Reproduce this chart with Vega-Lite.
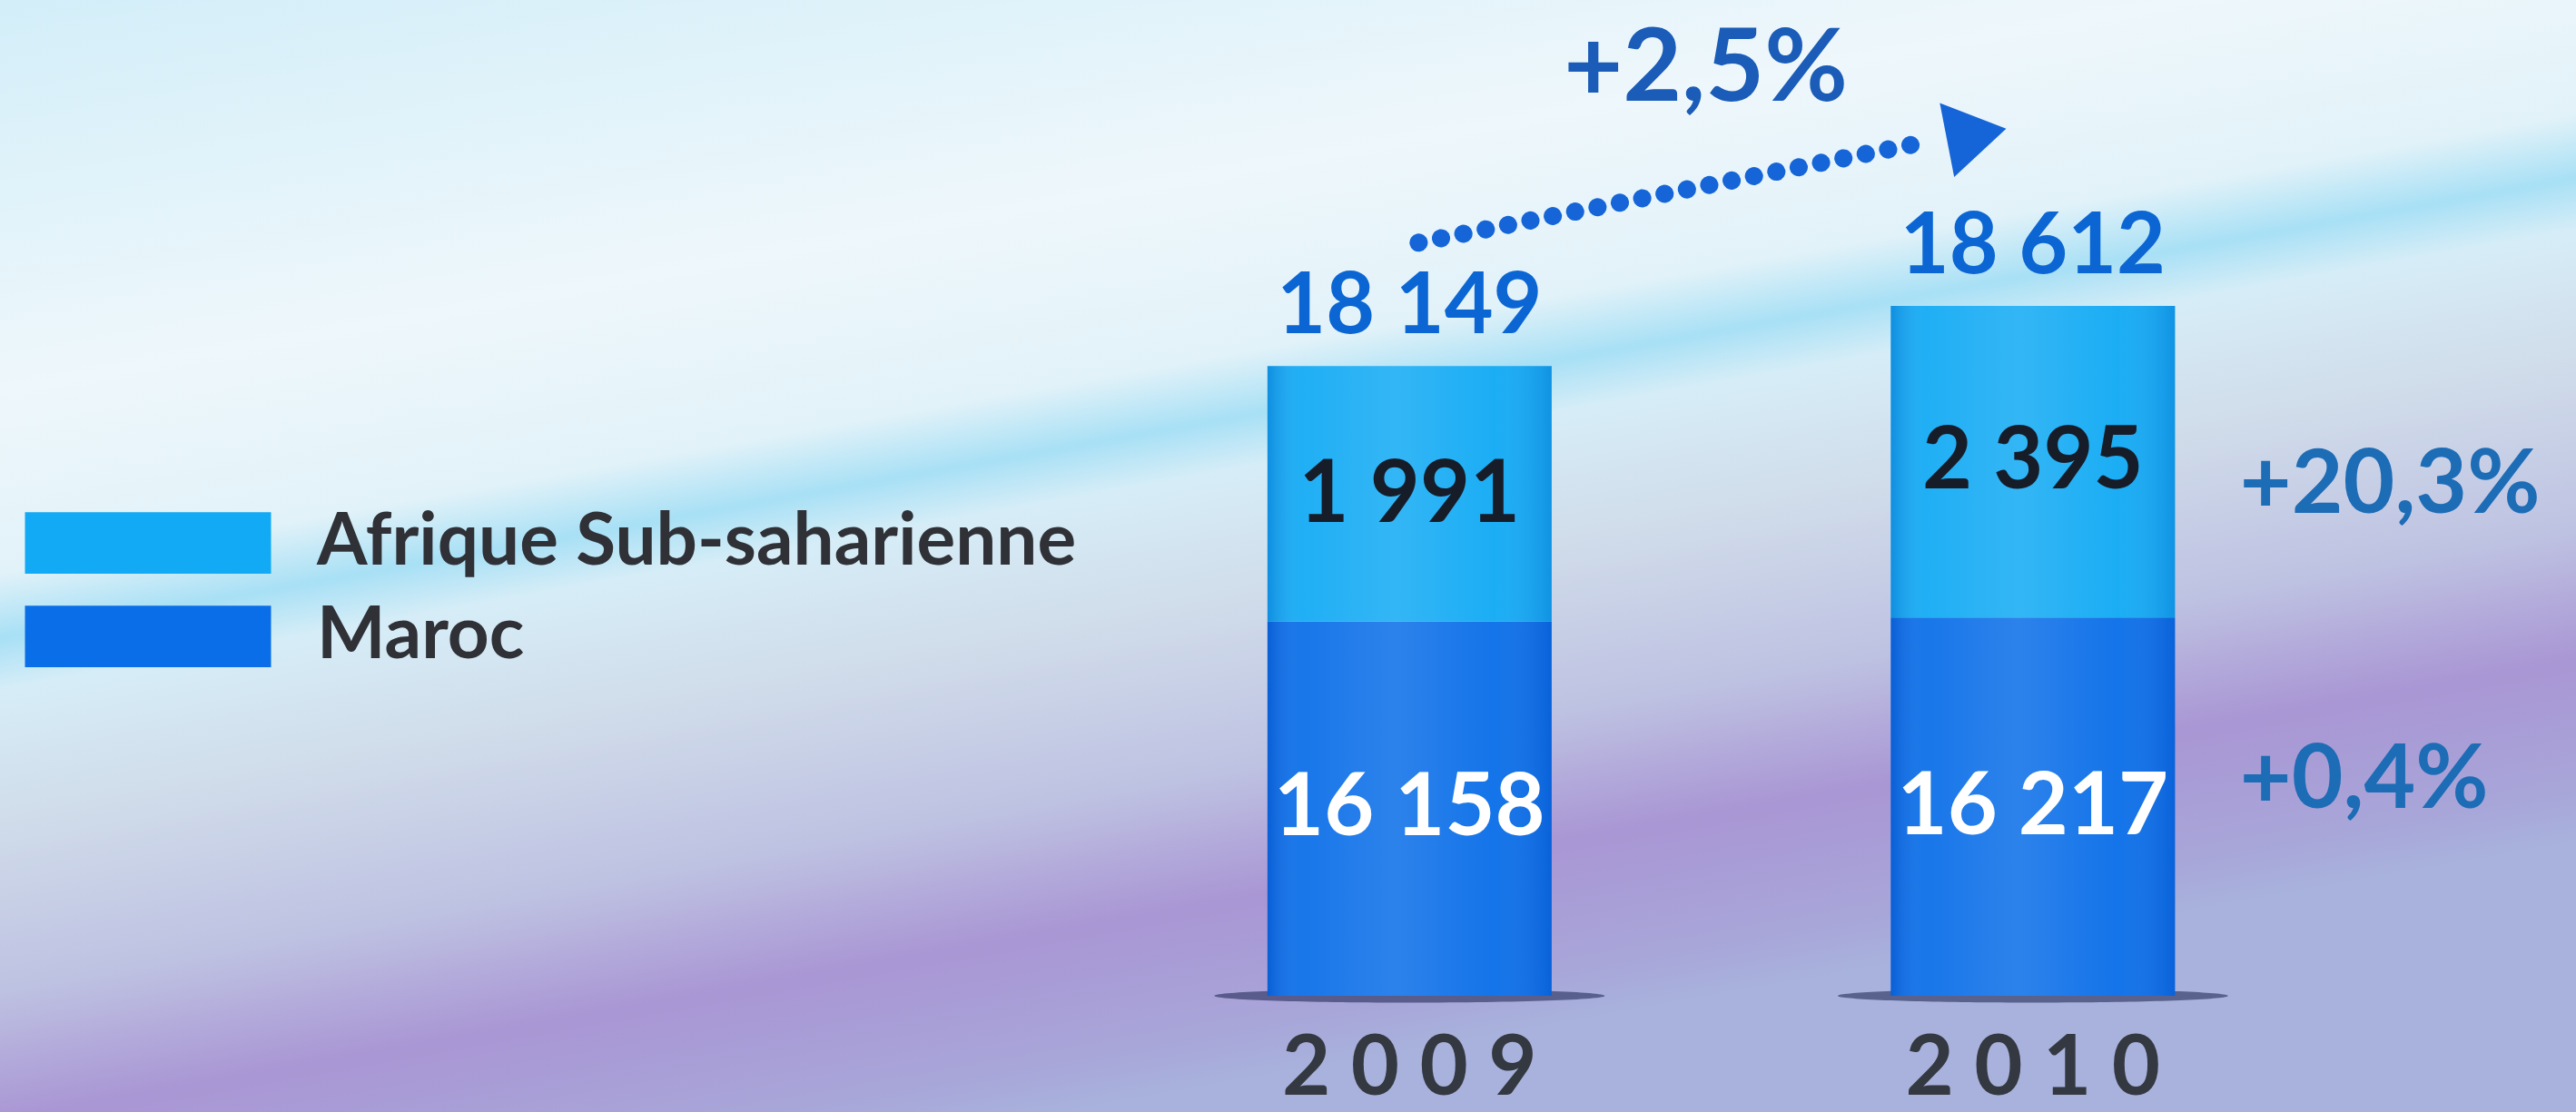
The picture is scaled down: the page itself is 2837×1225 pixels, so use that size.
{
  "$schema": "https://vega.github.io/schema/vega-lite/v6.json",
  "width": 2837,
  "height": 1225,
  "padding": 0,
  "autosize": {"type": "none"},
  "background": "#dceaf3",
  "config": {
    "locale": {"number": {"decimal": ",", "thousands": " ", "grouping": [3], "currency": ["", " €"]}},
    "font": "Lato",
    "view": {
      "stroke": null,
      "fill": {
        "gradient": "linear", "x1": 0, "y1": 0, "x2": 0.4136, "y2": 1,
        "stops": [
          {"offset": 0, "color": "#d3eef9"},
          {"offset": 0.3, "color": "#eef7fb"},
          {"offset": 0.44, "color": "#e2f2f9"},
          {"offset": 0.49, "color": "#a8e0f5"},
          {"offset": 0.53, "color": "#d6edf7"},
          {"offset": 0.63, "color": "#d0dcea"},
          {"offset": 0.76, "color": "#bec2e2"},
          {"offset": 0.86, "color": "#a996d4"},
          {"offset": 0.96, "color": "#a8a6d9"},
          {"offset": 1.1, "color": "#a8b2dc"}
        ]
      }
    }
  },
  "datasets": {
    "segments": [
      {"year": 2009, "region": "Maroc", "order": 1, "value": 16158, "growth": null},
      {"year": 2009, "region": "Afrique Sub-saharienne", "order": 2, "value": 1991, "growth": null},
      {"year": 2010, "region": "Maroc", "order": 1, "value": 16217, "growth": 0.004},
      {"year": 2010, "region": "Afrique Sub-saharienne", "order": 2, "value": 2395, "growth": 0.203}
    ],
    "totals": [
      {"year": 2009, "total": 18149},
      {"year": 2010, "total": 18612}
    ],
    "change": [
      {"from": 2009, "to": 2010, "v0": 18149, "v1": 18612, "growth": 0.025}
    ]
  },
  "layer": [
    {
      "data": {"name": "totals"},
      "mark": {"type": "point", "shape": "M-1,0A1,0.035,0,1,0,1,0A1,0.035,0,1,0,-1,0Z", "filled": true, "fill": "#16204c", "opacity": 0.55, "size": 184900},
      "encoding": {
        "x": {"field": "year", "type": "quantitative", "scale": {"domain": [2006.746, 2010.864], "nice": false, "zero": false}, "axis": null},
        "y": {"datum": 0, "type": "quantitative", "scale": {"domain": [0, 16190, 18612], "range": [1097, 684, 337], "nice": false, "zero": false}, "axis": null}
      }
    },
    {
      "data": {"name": "segments"},
      "transform": [
        {"stack": "value", "groupby": ["year"], "sort": [{"field": "order"}], "as": ["v0", "v1"]}
      ],
      "mark": {"type": "bar", "width": 313},
      "encoding": {
        "x": {"field": "year", "type": "quantitative"},
        "y": {"field": "v0", "type": "quantitative"},
        "y2": {"field": "v1"},
        "color": {
          "field": "region", "type": "nominal",
          "scale": {"domain": ["Afrique Sub-saharienne", "Maroc"], "range": ["#12aaf4", "#0a6ee8"]},
          "legend": {
            "orient": "none", "legendX": 123, "legendY": 558, "title": null, "padding": 0,
            "symbolType": "M-4,-1H4V1H-4Z", "symbolSize": 4590, "symbolStrokeWidth": 0, "symbolOpacity": 1,
            "labelFontSize": 80, "labelFont": "Lato", "labelFontWeight": "bold", "labelColor": "#2f3137",
            "labelOffset": 146, "rowPadding": 23, "labelLimit": 2000
          }
        }
      }
    },
    {
      "data": {"name": "segments"},
      "transform": [
        {"stack": "value", "groupby": ["year"], "sort": [{"field": "order"}], "as": ["v0", "v1"]}
      ],
      "mark": {
        "type": "bar", "width": 313,
        "fill": {
          "gradient": "linear", "x1": 0, "y1": 0, "x2": 1, "y2": 0,
          "stops": [
            {"offset": 0, "color": "rgba(0,40,150,0.22)"},
            {"offset": 0.12, "color": "rgba(255,255,255,0.06)"},
            {"offset": 0.45, "color": "rgba(255,255,255,0.14)"},
            {"offset": 0.8, "color": "rgba(255,255,255,0.04)"},
            {"offset": 1, "color": "rgba(0,40,150,0.18)"}
          ]
        }
      },
      "encoding": {
        "x": {"field": "year", "type": "quantitative"},
        "y": {"field": "v0", "type": "quantitative"},
        "y2": {"field": "v1"}
      }
    },
    {
      "data": {"name": "segments"},
      "transform": [
        {"stack": "value", "groupby": ["year"], "sort": [{"field": "order"}], "as": ["v0", "v1"]},
        {"calculate": "(datum.v0 + datum.v1) / 2", "as": "mid"}
      ],
      "mark": {"type": "text", "fontSize": 95, "fontWeight": "bold", "baseline": "middle", "align": "center"},
      "encoding": {
        "x": {"field": "year", "type": "quantitative"},
        "y": {"field": "mid", "type": "quantitative"},
        "text": {"field": "value", "type": "quantitative", "format": ",d"},
        "color": {"condition": {"test": "datum.region === 'Maroc'", "value": "#ffffff"}, "value": "#161c28"}
      }
    },
    {
      "data": {"name": "segments"},
      "transform": [
        {"stack": "value", "groupby": ["year"], "sort": [{"field": "order"}], "as": ["v0", "v1"]},
        {"calculate": "(datum.v0 + datum.v1) / 2", "as": "mid"},
        {"filter": "datum.growth != null && datum.region !== 'Maroc'"}
      ],
      "mark": {"type": "text", "fontSize": 98, "fontWeight": "bold", "baseline": "middle", "align": "left", "xOffset": 228, "yOffset": 27, "color": "#1d6cb6"},
      "encoding": {
        "x": {"field": "year", "type": "quantitative"},
        "y": {"field": "mid", "type": "quantitative"},
        "text": {"field": "growth", "type": "quantitative", "format": "+.1%"}
      }
    },
    {
      "data": {"name": "segments"},
      "transform": [
        {"stack": "value", "groupby": ["year"], "sort": [{"field": "order"}], "as": ["v0", "v1"]},
        {"calculate": "(datum.v0 + datum.v1) / 2", "as": "mid"},
        {"filter": "datum.growth != null && datum.region === 'Maroc'"}
      ],
      "mark": {"type": "text", "fontSize": 98, "fontWeight": "bold", "baseline": "middle", "align": "left", "xOffset": 228, "yOffset": -29, "color": "#1d6cb6"},
      "encoding": {
        "x": {"field": "year", "type": "quantitative"},
        "y": {"field": "mid", "type": "quantitative"},
        "text": {"field": "growth", "type": "quantitative", "format": "+.1%"}
      }
    },
    {
      "data": {"name": "totals"},
      "mark": {"type": "text", "fontSize": 93, "fontWeight": "bold", "baseline": "alphabetic", "align": "center", "yOffset": -36, "color": "#0b66d4"},
      "encoding": {
        "x": {"field": "year", "type": "quantitative"},
        "y": {"field": "total", "type": "quantitative"},
        "text": {"field": "total", "type": "quantitative", "format": ",d"}
      }
    },
    {
      "data": {"name": "change"},
      "mark": {"type": "rule", "strokeWidth": 20, "strokeCap": "round", "strokeDash": [0.1, 25], "color": "#1565d8", "xOffset": 10, "x2Offset": -121, "yOffset": -136, "y2Offset": -180},
      "encoding": {
        "x": {"field": "from", "type": "quantitative"},
        "x2": {"field": "to"},
        "y": {"field": "v0", "type": "quantitative"},
        "y2": {"field": "v1"}
      }
    },
    {
      "data": {"name": "change"},
      "mark": {"type": "point", "shape": "M-0.8,-1L0.8,0L-0.8,1Z", "filled": true, "fill": "#1565d8", "opacity": 1, "size": 6889, "angle": -11, "xOffset": -62, "yOffset": -189},
      "encoding": {
        "x": {"field": "to", "type": "quantitative"},
        "y": {"field": "v1", "type": "quantitative"}
      }
    },
    {
      "data": {"name": "change"},
      "transform": [{"calculate": "(datum.from + datum.to) / 2", "as": "midYear"}],
      "mark": {"type": "text", "fontSize": 112, "fontWeight": "bold", "baseline": "alphabetic", "align": "center", "xOffset": -17, "yOffset": -226, "color": "#1a5cb8"},
      "encoding": {
        "x": {"field": "midYear", "type": "quantitative"},
        "y": {"field": "v1", "type": "quantitative"},
        "text": {"field": "growth", "type": "quantitative", "format": "+.1%"}
      }
    },
    {
      "data": {"name": "totals"},
      "transform": [{"calculate": "join(split(toString(datum.year), ''), ' ')", "as": "yearLabel"}],
      "mark": {"type": "text", "fontSize": 92, "fontWeight": "bold", "baseline": "alphabetic", "align": "center", "yOffset": 109, "color": "#343840"},
      "encoding": {
        "x": {"field": "year", "type": "quantitative"},
        "y": {"datum": 0, "type": "quantitative"},
        "text": {"field": "yearLabel", "type": "nominal"}
      }
    }
  ]
}
